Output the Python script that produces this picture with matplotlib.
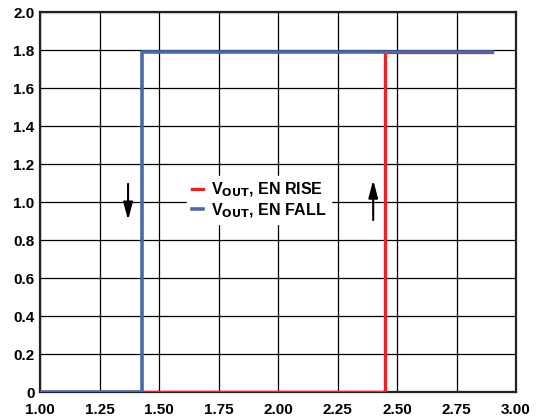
import numpy as np
import matplotlib.pyplot as plt

# Enable threshold sweep: output voltage vs EN voltage
en_rise_x = [1.00, 2.45, 2.45, 2.90]
en_rise_y = [0.0, 0.0, 1.79, 1.79]
en_fall_x = [2.90, 1.43, 1.43, 1.00]
en_fall_y = [1.79, 1.79, 0.0, 0.0]

x_ticks = [1.00, 1.25, 1.50, 1.75, 2.00, 2.25, 2.50, 2.75, 3.00]
x_labels = ["1.00", "1.25", "1.50", "1.75", "2.00", "2.25", "2.50", "2.75", "3.00"]
y_ticks = [0.0, 0.2, 0.4, 0.6, 0.8, 1.0, 1.2, 1.4, 1.6, 1.8, 2.0]
y_labels = ["0", "0.2", "0.4", "0.6", "0.8", "1.0", "1.2", "1.4", "1.6", "1.8", "2.0"]

plt.rcParams['font.family'] = ['Liberation Sans', 'DejaVu Sans']
plt.rcParams['font.weight'] = 'bold'

fig = plt.figure(figsize=(5.36, 4.18), dpi=100)
ax = fig.add_axes([40 / 536, 26 / 418, 476 / 536, 380 / 418])

ax.plot(en_rise_x, en_rise_y, color="#ff1a1a", lw=2.4, label="V$_{\\mathbf{OUT}}$, EN RISE", zorder=3)
ax.plot(en_fall_x, en_fall_y, color="#4a6aa5", lw=2.6, label="V$_{\\mathbf{OUT}}$, EN FALL", zorder=4)

# direction arrows
arrow_style = dict(arrowstyle="-|>,head_length=0.75,head_width=0.2",
                   color="black", lw=1.5, mutation_scale=14)
ax.annotate("", xy=(1.37, 0.89), xytext=(1.37, 1.11), arrowprops=arrow_style)
ax.annotate("", xy=(2.40, 1.13), xytext=(2.40, 0.89), arrowprops=arrow_style)

ax.set_xlim(1.0, 3.0)
ax.set_ylim(0.0, 2.0)
ax.set_xticks(x_ticks)
ax.set_xticklabels(x_labels, fontsize=11, fontweight="bold")
ax.set_yticks(y_ticks)
ax.set_yticklabels(y_labels, fontsize=11, fontweight="bold")
ax.tick_params(axis="x", length=0, pad=8)
ax.tick_params(axis="y", length=0, pad=4)
ax.grid(True, color="black", lw=0.9)
ax.set_axisbelow(True)
for s in ax.spines.values():
    s.set_linewidth(1.6)
    s.set_color("#222222")

leg = ax.legend(loc="center", bbox_to_anchor=(0.46, 0.505), frameon=True,
                prop=dict(size=11.5, weight="bold"), handlelength=0.7,
                handletextpad=0.5, labelspacing=0.15, borderpad=0.3)
leg.get_frame().set_edgecolor("white")
leg.get_frame().set_alpha(1.0)
leg.get_frame().set_boxstyle("square", pad=0.0)

fig.savefig("out.png", dpi=100)
